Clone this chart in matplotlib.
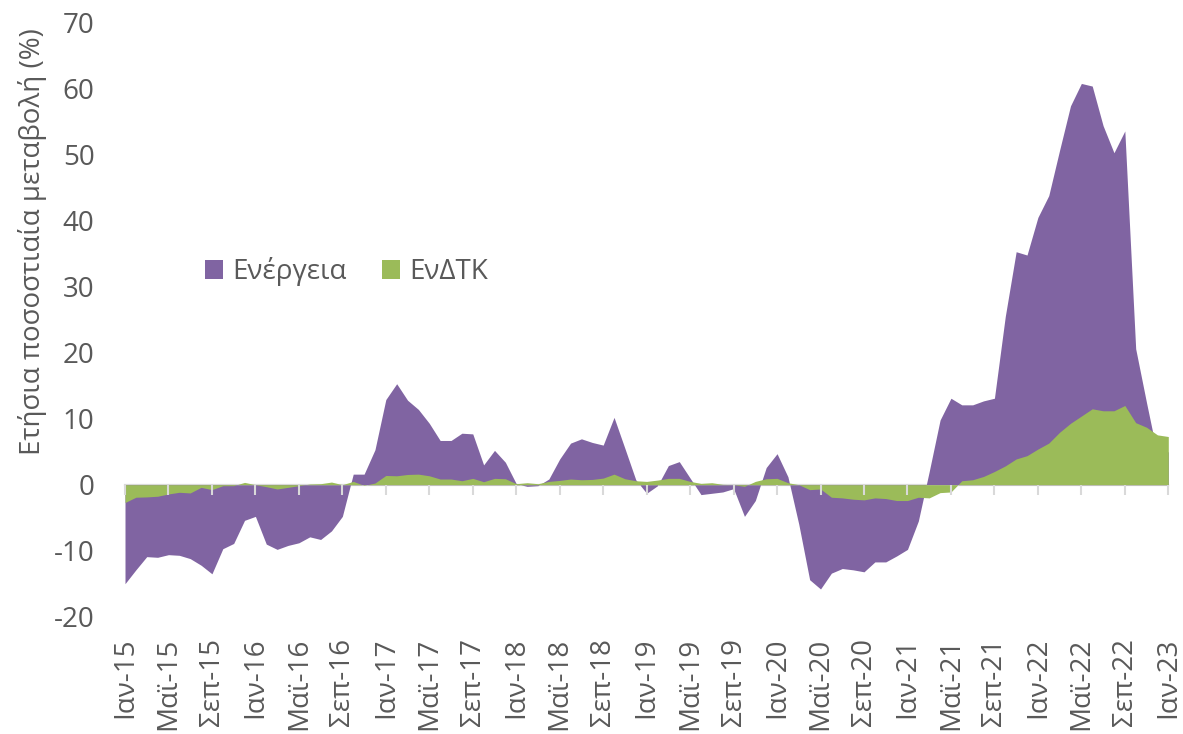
import matplotlib
matplotlib.use("Agg")
import matplotlib.pyplot as plt
import numpy as np

plt.rcParams['font.family'] = ['Open Sans', 'DejaVu Sans']
plt.rcParams['axes.unicode_minus'] = False

# ---- data (monthly, Jan-15 .. Jan-23) ----
energy = [-15.0, -12.9, -10.9, -11.0, -10.6, -10.7, -11.2, -12.2, -13.5, -9.7,
          -8.9, -5.4, -4.8, -9.0, -9.8, -9.2, -8.8, -7.9, -8.3, -7.0,
          -4.8, 1.6, 1.6, 5.3, 12.9, 15.3, 12.8, 11.4, 9.3, 6.7,
          6.7, 7.8, 7.7, 3.0, 5.2, 3.4, 0.15, -0.25, -0.15, 0.86,
          3.9, 6.3, 6.95, 6.4, 6.0, 10.2, 5.5, 0.75, -1.3, -0.15,
          2.9, 3.5, 1.0, -1.5, -1.3, -1.1, -0.6, -4.8, -2.4, 2.6,
          4.7, 1.2, -6.0, -14.4, -15.8, -13.4, -12.7, -12.9, -13.2, -11.7,
          -11.7, -10.8, -9.8, -5.5, 2.0, 9.8, 13.1, 12.1, 12.1, 12.7,
          13.1, 25.5, 35.3, 34.8, 40.5, 43.8, 50.7, 57.4, 60.8, 60.4,
          54.4, 50.3, 53.6, 20.6, 12.4, 4.5, 5.0]

hicp = [-2.7, -1.9, -1.85, -1.75, -1.4, -1.15, -1.25, -0.4, -0.75, -0.15,
        -0.15, 0.35, 0.0, -0.3, -0.65, -0.4, -0.15, 0.1, 0.15, 0.4,
        0.0, 0.5, -0.1, 0.25, 1.4, 1.35, 1.55, 1.6, 1.35, 0.86,
        0.86, 0.6, 0.96, 0.45, 0.96, 0.9, 0.15, 0.3, 0.15, 0.5,
        0.65, 0.86, 0.75, 0.8, 1.0, 1.6, 0.9, 0.6, 0.5, 0.7,
        0.96, 0.96, 0.5, 0.2, 0.3, 0.05, 0.0, -0.25, 0.5, 0.9,
        0.96, 0.3, 0.0, -0.75, -0.65, -1.9, -2.0, -2.2, -2.3, -2.0,
        -2.1, -2.4, -2.4, -1.9, -2.0, -1.2, -1.1, 0.6, 0.75, 1.25,
        2.0, 2.85, 3.9, 4.4, 5.4, 6.3, 7.95, 9.3, 10.4, 11.5,
        11.2, 11.2, 12.0, 9.4, 8.7, 7.55, 7.3]

label_months = ['Ιαν', 'Μαϊ', 'Σεπ']
label_years = ['15', '16', '17', '18', '19', '20', '21', '22', '23']
tick_labels = [f"{m}-{y}" for y in label_years for m in label_months][:25]

series_names = ['Ενέργεια', 'ΕνΔΤΚ']
ylabel = 'Ετήσια ποσοστιαία μεταβολή (%)'

# ---- style ----
PURPLE = '#8064A2'
GREEN = '#9BBB59'
TXT = '#595959'
AXC = '#D9D9D9'

W, H = 1183, 734
fig = plt.figure(figsize=(W / 100, H / 100), dpi=100)
ax = fig.add_axes([125 / W, 1 - 616.7 / H, (1168.3 - 125) / W, (616.7 - 22.7) / H])

x = np.arange(len(energy))
ax.fill_between(x, 0, energy, color=PURPLE, linewidth=0, label=series_names[0])
ax.fill_between(x, 0, hicp, color=GREEN, linewidth=0, label=series_names[1])

ax.set_xlim(0, len(energy) - 1)
ax.set_ylim(-20, 70)
ax.set_yticks(np.arange(-20, 71, 10))
ax.tick_params(axis='y', length=0, pad=22, labelsize=20, labelcolor=TXT)

for s in ['top', 'right', 'left']:
    ax.spines[s].set_visible(False)
ax.spines['bottom'].set_position(('data', 0))
ax.spines['bottom'].set_color(AXC)
ax.spines['bottom'].set_linewidth(1.6)
ax.spines['bottom'].set_zorder(0.5)

tick_pos = x[::4]
ax.set_xticks(tick_pos)
ax.tick_params(axis='x', direction='out', length=7, width=1.5, color=AXC,
               labelbottom=False)

sec = ax.secondary_xaxis('bottom')
sec.set_xticks(tick_pos, labels=tick_labels)
sec.tick_params(axis='x', length=0, pad=15, labelsize=20, labelcolor=TXT,
                rotation=90)
sec.spines['bottom'].set_visible(False)

fig.text(33 / W, 1 - 242 / H, ylabel, rotation=90, ha='center', va='center',
         fontsize=20, color=TXT)

leg = ax.legend(loc='center left', bbox_to_anchor=(205 / W, 1 - 271.7 / H),
                bbox_transform=fig.transFigure, ncol=2, frameon=False,
                fontsize=20, handlelength=0.65, handleheight=0.65,
                handletextpad=0.33, columnspacing=1.26, borderpad=0,
                borderaxespad=0)
for t in leg.get_texts():
    t.set_color(TXT)

fig.savefig('out.png', dpi=100)
